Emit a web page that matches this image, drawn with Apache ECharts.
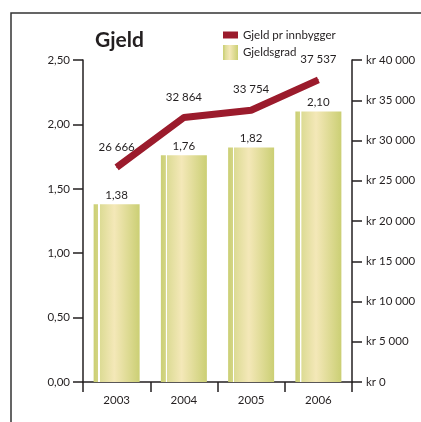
<!DOCTYPE html>
<html>
<head>
<meta charset="utf-8">
<script src="https://cdn.jsdelivr.net/npm/echarts@6/dist/echarts.min.js"></script>
<style>
	html, body { margin: 0; padding: 0; background: #fff; }
	#chart { width: 421px; height: 422px; }
</style>
</head>
<body>
<div id="chart"></div>
<script>
// data
const years = ["2003", "2004", "2005", "2006"];
const gjeldsgrad = [1.38, 1.76, 1.82, 2.10];
const gjeldPrInnbygger = [26666, 32864, 33754, 37537];

const ink = "#231f20";
const font = "Lato";

function comma(v) {
	return v.toFixed(2).replace(".", ",");
}
function spaced(v) {
	return String(v).replace(/\B(?=(\d{3})+(?!\d))/g, " ");
}

const barColor = new echarts.graphic.LinearGradient(0, 0, 1, 0, [
	{offset: 0, color: "#cbcf74"},
	{offset: 0.1, color: "#d3d584"},
	{offset: 0.105, color: "#ffffff"},
	{offset: 0.13, color: "#ffffff"},
	{offset: 0.135, color: "#dcdb94"},
	{offset: 0.45, color: "#f4e8b8"},
	{offset: 1, color: "#cbcf74"}
]);

const axisLine = {show: true, lineStyle: {color: ink, width: 1.5}};
const axisTick = {show: true, length: 10, lineStyle: {color: ink, width: 1.5}};

const chart = echarts.init(document.getElementById("chart"));
chart.setOption({
	animation: false,
	textStyle: {fontFamily: font, color: ink},
	title: {
		text: "Gjeld",
		left: 95,
		top: 30,
		padding: 0,
		textStyle: {fontFamily: font, fontSize: 21, fontWeight: "bold", color: ink}
	},
	legend: [
		{
			data: ["Gjeld pr innbygger"],
			left: 218,
			top: 24,
			itemWidth: 15,
			itemHeight: 7,
			icon: "rect",
			textStyle: {fontFamily: font, fontSize: 11.5, color: ink}
		},
		{
			data: ["Gjeldsgrad"],
			left: 218,
			top: 40,
			itemWidth: 15,
			itemHeight: 15,
			icon: "rect",
			textStyle: {fontFamily: font, fontSize: 11.5, color: ink}
		}
	],
	grid: {left: 83, right: 69, top: 60, bottom: 40},
	xAxis: {
		type: "category",
		data: years,
		axisLine: axisLine,
		axisTick: axisTick,
		axisLabel: {margin: 12, fontSize: 11.5, color: ink}
	},
	yAxis: [
		{
			type: "value",
			min: 0,
			max: 2.5,
			interval: 0.5,
			position: "left",
			axisLine: axisLine,
			axisTick: axisTick,
			splitLine: {show: false},
			axisLabel: {margin: 13, fontSize: 11.5, color: ink, formatter: comma}
		},
		{
			type: "value",
			min: 0,
			max: 40000,
			interval: 5000,
			position: "right",
			axisLine: axisLine,
			axisTick: axisTick,
			splitLine: {show: false},
			axisLabel: {margin: 14, fontSize: 11.5, color: ink, formatter: v => "kr " + spaced(v)}
		}
	],
	series: [
		{
			name: "Gjeldsgrad",
			type: "bar",
			data: gjeldsgrad,
			barWidth: 46,
			itemStyle: {color: barColor},
			label: {
				show: true,
				position: "top",
				distance: 3,
				fontSize: 11.5,
				color: ink,
				formatter: p => comma(p.value)
			}
		},
		{
			name: "Gjeld pr innbygger",
			type: "line",
			yAxisIndex: 1,
			data: gjeldPrInnbygger,
			symbol: "circle",
			symbolSize: 1,
			itemStyle: {color: "#9b1b2c"},
			lineStyle: {color: "#9b1b2c", width: 7, cap: "butt"},
			z: 3,
			label: {
				show: true,
				position: "top",
				distance: 14,
				fontSize: 11.5,
				color: ink,
				formatter: p => spaced(p.value)
			}
		}
	],
	graphic: [
		{
			type: "polyline",
			shape: {points: [[11, 422], [11, 13], [421, 13]]},
			style: {stroke: "#333", lineWidth: 1.5, fill: null}
		}
	]
});
</script>
</body>
</html>
